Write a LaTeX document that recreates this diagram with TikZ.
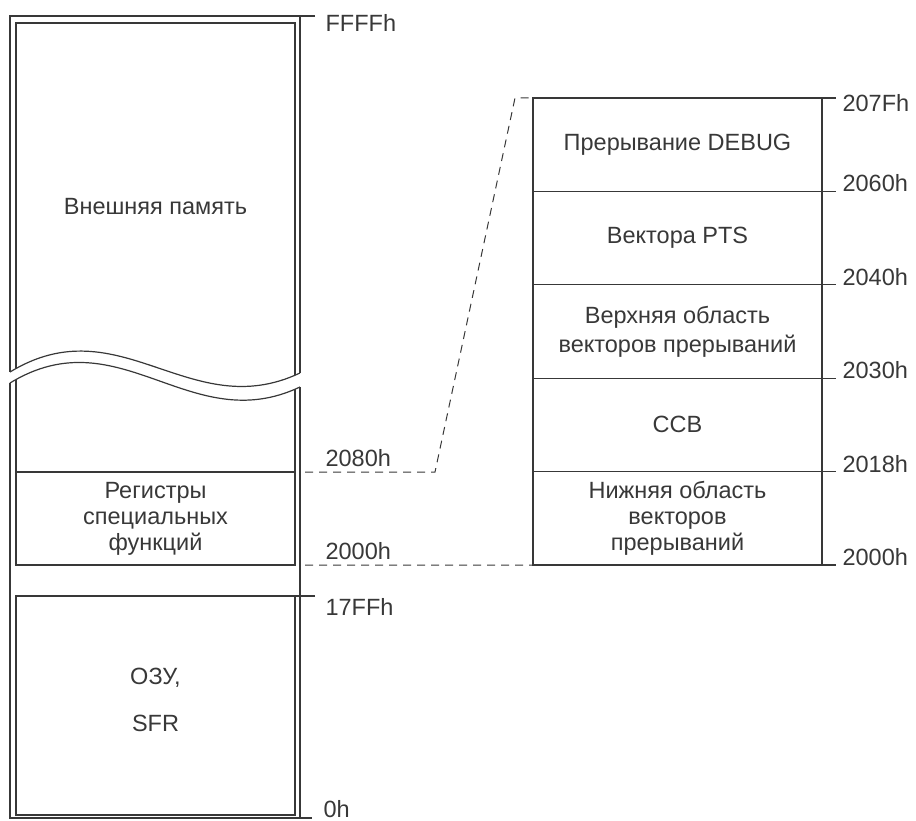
\documentclass[tikz,border=0pt]{standalone}
\usepackage{fontspec}
\setmainfont{Liberation Sans}
\usetikzlibrary{positioning}
\definecolor{ink}{HTML}{383838}

\begin{document}
\begin{tikzpicture}[x=1pt, y=-1pt, color=ink, line width=1.2pt,
  txt/.style={inner sep=0pt, align=center, font=\fontsize{23.5}{26}\selectfont},
  addr/.style={txt, anchor=west},
  seg/.style={txt, draw, outer sep=0pt, minimum width=289pt, minimum height=93.4pt},
  link/.style={dash pattern=on 8pt off 6pt, line width=1pt}]
  \useasboundingbox (0,0) rectangle (916,821);

  \draw (315,16) -- (10,16) -- (10,372);
  \draw (300,16) -- (300,373);
  \draw (16,369) -- (16,23) -- (295,23) -- (295,375);
  \draw (10,372) .. controls (120,305) and (190,425) .. (300,373);
  \draw (10,383) .. controls (120,316) and (190,439) .. (300,387);
  \draw (10,383) -- (10,818) -- (312,818);
  \draw (300,387) -- (300,818);
  \draw (16,380) -- (16,565) -- (295,565) -- (295,389);
  \draw (16,472) -- (295,472);
  \draw (315,596) -- (16,596) -- (16,815) -- (295,815) -- (295,596);

  \node[txt] (ext) at (155.5,207) {Внешняя память};
  \node[txt] (sfr) at (155.5,519) {Регистры\\специальных\\функций};
  \node[txt] (ram) at (155.5,678) {ОЗУ,};
  \node[txt] (ramsfr) at (155.5,723) {SFR};

  \node[addr] (aFFFF) at (325,23) {FFFFh};
  \node[addr] (a2080) at (325,458) {2080h};
  \node[addr] (a2000) at (325,551) {2000h};
  \node[addr] (a17FF) at (325,607) {17FFh};
  \node[addr] (a0) at (323,809) {0h};

  \node[seg] (debug) at (677.5,144.7) {Прерывание DEBUG};
  \node[seg, below=0pt of debug] (pts) {Вектора PTS};
  \node[seg, below=0pt of pts] (upper) {Верхняя область\\[3pt]векторов прерываний};
  \node[seg, below=0pt of upper] (ccb) {CCB};
  \node[seg, below=0pt of ccb] (lower) {Нижняя область\\векторов\\прерываний};

  \draw (debug.north east) -- ++(14,0);
  \foreach \s in {debug,pts,upper,ccb,lower}
    \draw (\s.south east) -- ++(14,0);

  \node[addr] (a207F) at ([shift={(20,5)}]debug.north east) {207Fh};
  \node[addr] (a2060) at ([shift={(20,-8)}]debug.south east) {2060h};
  \node[addr] (a2040) at ([shift={(20,-8)}]pts.south east) {2040h};
  \node[addr] (a2030) at ([shift={(20,-8)}]upper.south east) {2030h};
  \node[addr] (a2018) at ([shift={(20,-8)}]ccb.south east) {2018h};
  \node[addr] (b2000) at ([shift={(20,-8)}]lower.south east) {2000h};

  \coordinate (t2080) at (305,472);
  \coordinate (t2000) at (305,565);
  \coordinate (bend) at (435,472);
  \coordinate (rise) at (515,98);
  \draw[link] (t2080) -- (bend) -- (rise) -- (debug.north west);
  \draw[link] (t2000) -- (lower.south west);
\end{tikzpicture}
\end{document}
